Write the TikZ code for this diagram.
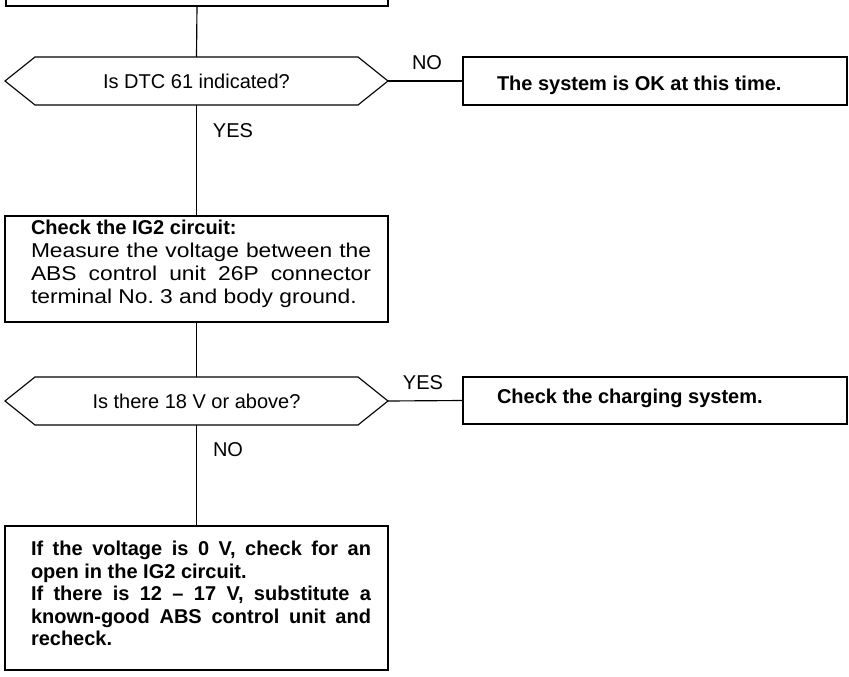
\documentclass[tikz,border=0pt]{standalone}
\usepackage{fontspec}
\setmainfont{Liberation Sans}
\newfontfamily\widefont[FakeStretch=1.14]{Liberation Sans}
% a line set flush to both margins of the 340pt text column
\newcommand{\jline}[1]{\makebox[340pt][s]{\spaceskip=\fontdimen2\font plus 1fil\relax #1}}
\begin{document}
\begin{tikzpicture}[x=1pt,y=-1pt,line width=1.15pt,
  frame/.style={draw,rectangle,inner sep=0pt,outer sep=0pt},
  slot/.style={rectangle,inner sep=0pt,outer sep=0pt,minimum width=383pt,minimum height=48pt},
  txt/.style={font=\fontsize{20}{22.5}\selectfont,inner sep=0pt,outer sep=0pt},
  bold/.style={txt,font=\fontsize{20}{22.5}\selectfont\bfseries},
  para/.style={txt,align=justify,text width=340pt,anchor=north west}]
\useasboundingbox (0,0) rectangle (849,677);
\clip (0,0) rectangle (849,677);

% boxes and decision slots
\node[frame,minimum width=382pt,minimum height=52pt] (top) at (197,-20) {};
\node[slot] (q1) at (196.5,81) {};
\node[frame,minimum width=384pt,minimum height=48pt] (ok) at (655,81) {};
\node[frame,minimum width=383pt,minimum height=106pt] (ig2) at (196.5,269) {};
\node[slot] (q2) at (196.5,401) {};
\node[frame,minimum width=384pt,minimum height=47pt] (chg) at (655,400.5) {};
\node[frame,minimum width=383pt,minimum height=144pt] (fin) at (196.5,598) {};

% hexagonal decision outlines
\foreach \q in {q1,q2}{
  \draw (\q.west) -- ([xshift=30pt]\q.north west) -- ([xshift=-30pt]\q.north east)
    -- (\q.east) -- ([xshift=-30pt]\q.south east) -- ([xshift=30pt]\q.south west) -- cycle;
}

% texts
\node[txt] (t1) at (q1) {Is DTC 61 indicated?};
\node[txt] (t2) at (q2) {Is there 18 V or above?};
\node[bold,anchor=base west] (tok) at (497,90) {The system is OK at this time.};
\node[bold,anchor=base west] (tchg) at (497,403) {Check the charging system.};
\node[para,font=\fontsize{20}{23}\selectfont\frenchspacing] (tig2) at (31,220.5) {{\bfseries Check the IG2 circuit:}\\
  \widefont
  \jline{Measure the voltage between the}\\
  \jline{ABS control unit 26P connector}\\
  terminal No. 3 and body ground.};
\node[para,font=\fontsize{20}{22.5}\selectfont\bfseries\frenchspacing] (tfin) at (31,541.5) {%
  \jline{If the voltage is 0 V, check for an}\\
  open in the IG2 circuit.\\
  \jline{If there is 12 \textendash{} 17 V, substitute a}\\
  \jline{known-good ABS control unit and}\\
  recheck.};

% branch labels
\node[txt] (no1) at (427,63) {NO};
\node[txt] (yes1) at (233,131) {YES};
\node[txt] (yes2) at (423,383) {YES};
\node[txt] (no2) at (228,450) {NO};

% connectors
\draw (top.south) -- (q1.north);
\draw (q1.east) -- (ok.west);
\draw (q1.south) -- (ig2.north);
\draw (ig2.south) -- (q2.north);
\draw (q2.east) -- (chg.west);
\draw (q2.south) -- (fin.north);
\end{tikzpicture}
\end{document}
